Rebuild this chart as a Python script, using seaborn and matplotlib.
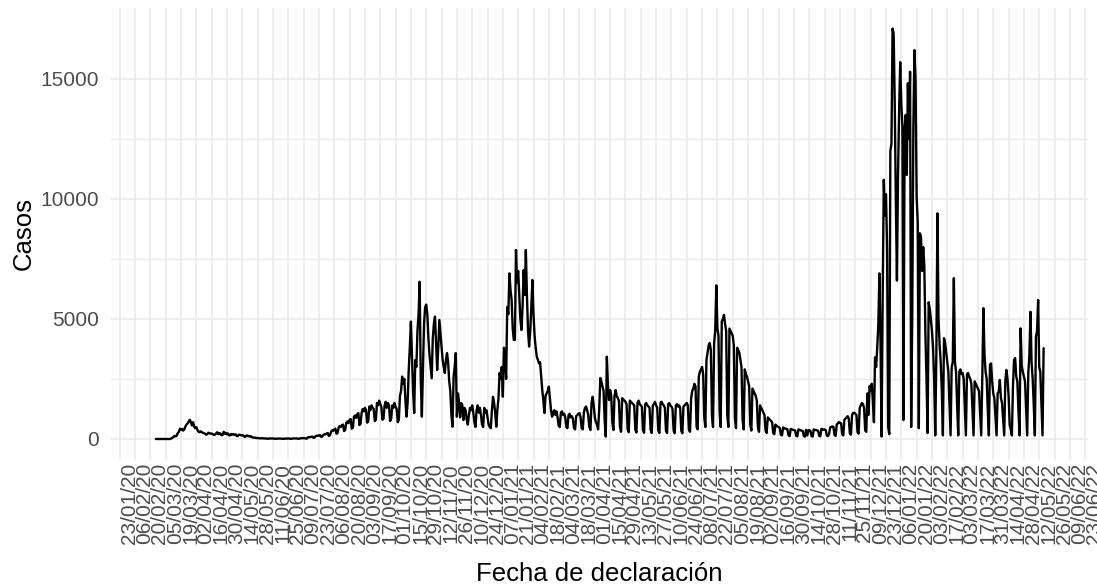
import pandas as pd
import matplotlib
matplotlib.use("Agg")
import matplotlib.pyplot as plt
import matplotlib.dates as mdates
import seaborn as sns

# === Data: daily declared cases, one row per week (Mon..Sun) ===
fecha_inicio = "2020-02-25"   # first row starts on a Tuesday
casos = [
    0, 0, 0, 0, 0, 0,                                  # 24/02/20
    0, 0, 0, 0, 0, 0, 0,                               # 02/03/20
    0, 20, 50, 80, 130, 110, 140,                      # 09/03/20
    240, 300, 430, 380, 420, 350, 400,                 # 16/03/20
    520, 600, 650, 720, 800, 700, 560,                 # 23/03/20
    700, 520, 450, 500, 380, 300, 280,                 # 30/03/20
    320, 280, 260, 240, 220, 180, 200,                 # 06/04/20
    260, 240, 220, 230, 200, 170, 180,                 # 13/04/20
    230, 280, 200, 250, 220, 160, 170,                 # 20/04/20
    300, 220, 260, 190, 230, 150, 160,                 # 27/04/20
    210, 180, 200, 170, 190, 120, 130,                 # 04/05/20
    180, 170, 150, 160, 140, 90, 100,                  # 11/05/20
    150, 120, 130, 100, 110, 70, 60,                   # 18/05/20
    60, 50, 40, 40, 35, 25, 30,                        # 25/05/20
    30, 25, 25, 20, 20, 10, 15,                        # 01/06/20
    25, 20, 20, 20, 15, 10, 10,                        # 08/06/20
    20, 15, 20, 15, 15, 5, 10,                         # 15/06/20
    15, 20, 15, 20, 20, 5, 10,                         # 22/06/20
    20, 25, 20, 25, 20, 10, 10,                        # 29/06/20
    30, 35, 30, 40, 35, 15, 20,                        # 06/07/20
    70, 80, 75, 95, 100, 50, 60,                       # 13/07/20
    120, 140, 130, 150, 160, 90, 100,                  # 20/07/20
    170, 200, 190, 230, 250, 130, 150,                 # 27/07/20
    290, 360, 340, 400, 430, 220, 250,                 # 03/08/20
    480, 540, 500, 580, 600, 330, 380,                 # 10/08/20
    680, 730, 660, 800, 830, 430, 480,                 # 17/08/20
    930, 980, 880, 1030, 1080, 580, 630,               # 24/08/20
    1100, 1250, 1150, 1300, 1200, 680, 740,            # 31/08/20
    1350, 1200, 1400, 1300, 1250, 750, 800,            # 07/09/20
    1500, 1400, 1600, 1450, 1350, 800, 850,            # 14/09/20
    1400, 1550, 1300, 1500, 1400, 750, 850,            # 21/09/20
    1400, 1300, 1500, 1350, 1250, 700, 800,            # 28/09/20
    1800, 2000, 2600, 2300, 2500, 1600, 930,           # 05/10/20
    1500, 2875, 3800, 4890, 3500, 2000, 1080,          # 12/10/20
    3290, 3000, 4500, 5200, 6550, 2500, 930,           # 19/10/20
    2875, 4800, 5500, 5600, 5200, 4200, 3500,          # 26/10/20
    3000, 2530, 4200, 4800, 5100, 4000, 2875,          # 02/11/20
    3800, 4960, 4400, 3800, 3290, 3000, 2750,          # 09/11/20
    3290, 3580, 3200, 2400, 2000, 1000, 510,           # 16/11/20
    2600, 3000, 3580, 930, 1900, 1500, 900,            # 23/11/20
    1500, 1400, 790, 1300, 1200, 800, 600,             # 30/11/20
    1000, 1300, 1200, 1400, 1100, 700, 500,            # 07/12/20
    1200, 1400, 1100, 1300, 1000, 600, 500,            # 14/12/20
    1300, 1100, 1200, 900, 600, 500, 450,              # 21/12/20
    1200, 1760, 1500, 1100, 510, 1200, 1700,           # 28/12/20
    2750, 2500, 3000, 1760, 3800, 3500, 2500,          # 04/01/21
    5500, 5200, 6900, 6200, 5800, 4600, 4125,          # 11/01/21
    4125, 7875, 6500, 7000, 6000, 5000, 4540,          # 18/01/21
    5500, 7040, 6000, 7875, 6000, 4500, 3850,          # 25/01/21
    4500, 5500, 6625, 5200, 4300, 3800, 3430,          # 01/02/21
    3300, 3150, 3200, 2600, 2040, 1600, 1080,          # 08/02/21
    1800, 1900, 2000, 2180, 1700, 1200, 930,           # 15/02/21
    1100, 1200, 1000, 1150, 900, 550, 500,             # 22/02/21
    1100, 1150, 1000, 1050, 900, 500, 450,             # 01/03/21
    1000, 1050, 900, 950, 850, 450, 400,               # 08/03/21
    950, 1000, 1050, 1080, 900, 450, 400,              # 15/03/21
    1100, 1300, 1350, 1200, 1000, 500, 375,            # 22/03/21
    1500, 1760, 1400, 900, 700, 600, 400,              # 29/03/21
    1200, 2540, 2400, 2180, 2000, 800, 100,            # 05/04/21
    3430, 2200, 1625, 2040, 1800, 700, 375,            # 12/04/21
    1800, 2040, 1800, 1700, 1600, 500, 300,            # 19/04/21
    1700, 1650, 1600, 1550, 1450, 400, 280,            # 26/04/21
    1600, 1550, 1500, 1450, 1400, 400, 270,            # 03/05/21
    1500, 1600, 1450, 1400, 1350, 380, 260,            # 10/05/21
    1450, 1500, 1400, 1350, 1300, 380, 250,            # 17/05/21
    1400, 1450, 1550, 1400, 1300, 360, 250,            # 24/05/21
    1500, 1550, 1450, 1400, 1300, 350, 250,            # 31/05/21
    1450, 1500, 1400, 1350, 1250, 350, 240,            # 07/06/21
    1400, 1450, 1350, 1400, 1300, 340, 240,            # 14/06/21
    1350, 1400, 1450, 1500, 1400, 380, 300,            # 21/06/21
    1700, 2000, 2100, 2300, 2200, 500, 400,            # 28/06/21
    2600, 2800, 2900, 3000, 2700, 900, 500,            # 05/07/21
    3300, 3600, 3900, 4000, 3700, 1000, 500,           # 12/07/21
    4000, 4500, 6400, 4600, 4300, 1100, 500,           # 19/07/21
    4900, 5000, 5170, 4800, 4500, 1000, 500,           # 26/07/21
    4600, 4500, 4400, 4300, 3900, 900, 450,            # 02/08/21
    3800, 3700, 3600, 3300, 3000, 800, 400,            # 09/08/21
    2900, 2700, 2600, 2400, 2200, 600, 350,            # 16/08/21
    2100, 2000, 1900, 1800, 1600, 500, 300,            # 23/08/21
    1400, 1300, 1200, 1100, 1000, 350, 250,            # 30/08/21
    900, 850, 800, 750, 700, 250, 200,                 # 06/09/21
    600, 550, 520, 500, 450, 180, 150,                 # 13/09/21
    480, 450, 430, 420, 400, 150, 120,                 # 20/09/21
    420, 400, 380, 370, 350, 130, 110,                 # 27/09/21
    400, 380, 360, 350, 330, 120, 100,                 # 04/10/21
    380, 150, 360, 370, 330, 120, 100,                 # 11/10/21
    400, 380, 370, 360, 340, 130, 110,                 # 18/10/21
    420, 400, 390, 400, 370, 140, 120,                 # 25/10/21
    200, 480, 500, 520, 500, 160, 130,                 # 01/11/21
    600, 650, 700, 680, 650, 200, 150,                 # 08/11/21
    800, 850, 900, 950, 850, 230, 180,                 # 15/11/21
    1000, 1080, 1100, 1050, 1000, 280, 220,            # 22/11/21
    1300, 1400, 1500, 1450, 1300, 350, 300,            # 29/11/21
    1900, 1000, 2200, 2000, 2300, 1600, 700,           # 06/12/21
    3400, 3000, 3800, 4800, 6900, 4000, 100,           # 13/12/21
    6000, 10800, 9300, 10200, 8000, 500, 200,          # 20/12/21
    12000, 12300, 17100, 16900, 14000, 9960, 6600,     # 27/12/21
    11000, 13700, 15700, 14000, 13000, 790, 12900,     # 03/01/22
    13500, 11000, 14820, 12500, 15300, 500, 5170,      # 10/01/22
    13000, 16200, 15000, 10100, 9000, 450, 8570,       # 17/01/22
    8400, 7000, 8000, 7250, 4400, 2500, 250,           # 24/01/22
    5700, 5400, 5000, 4500, 3800, 2500, 150,           # 31/01/22
    3500, 9400, 5000, 3900, 3200, 2000, 150,           # 07/02/22
    4200, 4000, 3600, 3200, 2800, 1500, 150,           # 14/02/22
    3000, 3200, 6700, 3200, 2800, 1400, 150,           # 21/02/22
    2800, 2900, 2700, 2750, 2500, 1300, 150,           # 28/02/22
    2700, 2750, 2600, 2500, 2300, 1200, 150,           # 07/03/22
    2400, 2300, 2200, 2100, 2000, 1100, 150,           # 14/03/22
    2600, 5450, 3500, 2800, 2500, 1200, 150,           # 21/03/22
    3100, 3150, 2400, 1900, 1700, 900, 150,            # 28/03/22
    1900, 1970, 2460, 1700, 1500, 800, 150,            # 04/04/22
    2400, 2875, 2500, 1800, 600, 400, 150,             # 11/04/22
    2200, 3290, 3370, 2600, 2400, 1200, 150,           # 18/04/22
    4610, 3050, 2800, 2600, 2400, 1300, 150,           # 25/04/22
    2740, 3500, 5300, 3200, 2500, 1400, 150,           # 02/05/22
    4260, 4500, 5790, 3000, 2800, 1500, 150,           # 09/05/22
    3780,                                              # 16/05/22
]

# axis breaks: every two weeks on x, 5000 cases on y
x_break_inicio = "2020-01-23"
x_break_fin = "2022-06-23"
y_breaks = [0, 5000, 10000, 15000]
y_minor_breaks = [2500, 7500, 12500]

fechas = pd.date_range(fecha_inicio, periods=len(casos), freq="D")
df = pd.DataFrame({"Fecha de declaración": fechas, "Casos": casos})
x_breaks = pd.date_range(x_break_inicio, x_break_fin, freq="14D")

# === Style (ggplot theme_minimal look) ===
sns.set_theme(style="white")
plt.rcParams['font.family'] = ['Liberation Sans', 'DejaVu Sans']

fig = plt.figure(figsize=(10.97, 5.85), dpi=100)
ax = fig.add_axes([0.1016, 0.2145, 0.8902, 0.7718])

sns.lineplot(data=df, x="Fecha de declaración", y="Casos", color="black",
             linewidth=1.7, ax=ax)

# ggplot-like 5% expansion
x0, x1 = mdates.date2num(fechas[0]), mdates.date2num(fechas[-1])
pad = 0.05 * (x1 - x0)
ax.set_xlim(x0 - pad, x1 + pad)
ymax = max(casos)
ax.set_ylim(-0.05 * ymax, 1.05 * ymax)

ax.set_xticks(mdates.date2num(x_breaks))
ax.set_xticklabels([d.strftime("%d/%m/%y") for d in x_breaks],
                   rotation=90, ha="left", va="top")
ax.set_yticks(y_breaks)
ax.set_yticklabels([str(v) for v in y_breaks])
ax.set_yticks(y_minor_breaks, minor=True)

ax.grid(which="major", color="#EBEBEB", linewidth=1.2)
ax.grid(which="minor", axis="y", color="#EBEBEB", linewidth=1.0)
ax.set_axisbelow(True)
for s in ax.spines.values():
    s.set_visible(False)

ax.tick_params(axis="x", which="both", length=0, pad=2.5, labelsize=15, labelcolor="#4D4D4D")
ax.tick_params(axis="y", which="both", length=0, pad=8.8, labelsize=15, labelcolor="#4D4D4D")

ax.set_xlabel("Fecha de declaración", fontsize=18.5, color="black")
ax.set_ylabel("Casos", fontsize=18.5, color="black")
ax.xaxis.set_label_coords(0.5, -0.227)
ax.yaxis.set_label_coords(-0.078, 0.5)

fig.savefig("out.png", dpi=100)
